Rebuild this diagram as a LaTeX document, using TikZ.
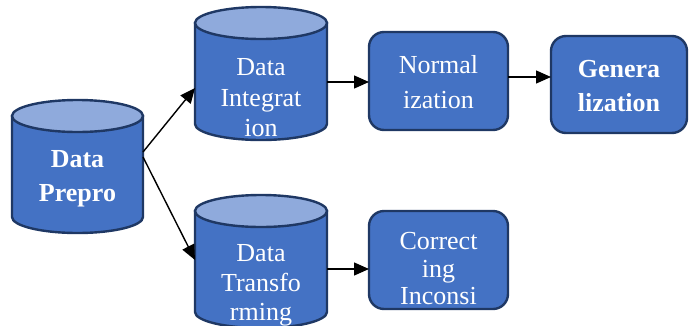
\documentclass[tikz,border=0pt]{standalone}
\usepackage{fontspec}
\setmainfont{Liberation Serif}
\usetikzlibrary{calc,arrows.meta}
\definecolor{bodyblue}{HTML}{4472C4}
\definecolor{topblue}{HTML}{8FAADC}
\definecolor{edgeblue}{HTML}{1F3864}
\tikzset{
  shapeline/.style={draw=edgeblue,line width=2.4pt,fill=bodyblue},
  topline/.style={draw=edgeblue,line width=2.4pt,fill=topblue},
  boxshape/.style={shapeline,rounded corners=15pt},
  area/.style={inner sep=0pt,outer sep=0pt},
  label/.style={inner sep=0pt,text=white,align=center},
  conn/.style={line width=1.4pt,-{Triangle[length=15pt,width=13pt]}}
}
\begin{document}
\begin{tikzpicture}[x=1pt,y=-1pt]
\useasboundingbox (0,0) rectangle (689,325);
% cylinders
\path[shapeline] (12,116) -- (12,217) arc[start angle=180,end angle=0,x radius=65.5,y radius=16] -- (143,116) -- cycle;
\path[topline] (77.5,116) ellipse[x radius=65.5,y radius=16];
\path[shapeline] (195,23) -- (195,124) arc[start angle=180,end angle=0,x radius=66,y radius=16] -- (327,23) -- cycle;
\path[topline] (261,23) ellipse[x radius=66,y radius=16];
\path[shapeline] (195,211) -- (195,312) arc[start angle=180,end angle=0,x radius=66,y radius=16] -- (327,211) -- cycle;
\path[topline] (261,211) ellipse[x radius=66,y radius=16];
% shape areas
\node[area,minimum width=131pt,minimum height=133pt] (prep) at (77.5,166.5) {};
\node[area,minimum width=132pt,minimum height=133pt] (integ) at (261,73.5) {};
\node[area,minimum width=132pt,minimum height=133pt] (transf) at (261,261.5) {};
% boxes
\node[area,boxshape,minimum width=139pt,minimum height=98pt] (norm) at (438.5,81) {};
\node[area,boxshape,minimum width=136pt,minimum height=97pt] (gen) at (619,84.5) {};
\node[area,boxshape,minimum width=139pt,minimum height=98pt] (corr) at (438.5,260) {};
% texts
\node[label,font=\bfseries\fontsize{26}{34}\selectfont] (prept) at (77.5,179.2) {Data\\Prepro};
\node[label,font=\fontsize{26}{30.5}\selectfont] (integt) at (261,97.9) {Data\\Integrat\\ion};
\node[label,font=\fontsize{26}{29.5}\selectfont] (transft) at (261,285.7) {Data\\Transfo\\rming};
\node[label,font=\fontsize{26}{35}\selectfont] (normt) at (438.5,81.9) {Normal\\ization};
\node[label,font=\bfseries\fontsize{26}{34}\selectfont] (gent) at (619,86.4) {Genera\\lization};
\node[label,font=\fontsize{26}{27.5}\selectfont] (corrt) at (438.5,269) {Correct\\ing\\Inconsi};
% connectors
\draw[conn] ($(prep.east)+(0,-14.5)$) -- ($(integ.west)+(0,14.5)$);
\draw[conn] ($(prep.east)+(0,-9.5)$) -- ($(transf.west)+(0,-1.5)$);
\draw[conn] ($(integ.east)+(0,8.5)$) -- ($(norm.west)+(0,1)$);
\draw[conn] ($(norm.east)+(0,-4)$) -- ($(gen.west)+(0,-7.5)$);
\draw[conn] ($(transf.east)+(0,7.5)$) -- ($(corr.west)+(0,9)$);
\end{tikzpicture}
\end{document}
